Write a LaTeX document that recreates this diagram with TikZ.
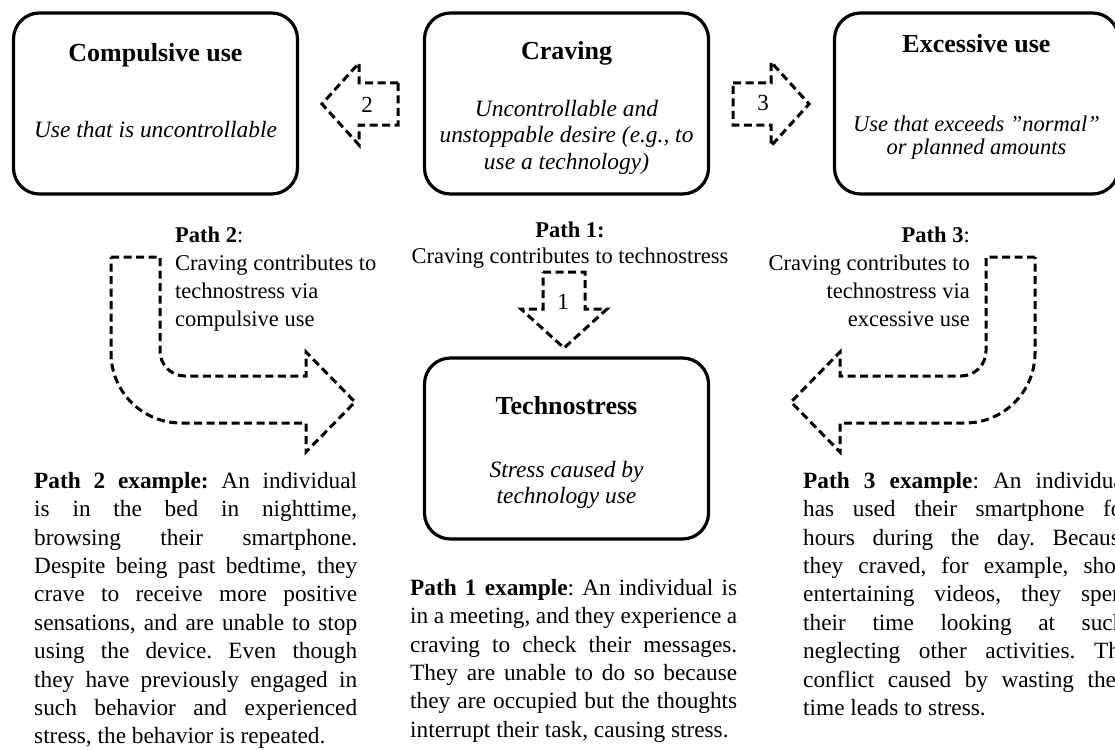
\documentclass[tikz,border=0pt]{standalone}
\usepackage{fontspec}
\setmainfont{Liberation Serif}
\frenchspacing
\newcommand{\jline}[2]{\makebox[#1][s]{#2}}
\begin{document}
\begin{tikzpicture}[x=1pt,y=-1pt,
  ubox/.style={draw=black,line width=3.2pt,rounded corners=26pt,minimum width=284pt,minimum height=181pt,inner sep=0pt},
  blockarrow/.style={draw=black,line width=3pt,dash pattern=on 8pt off 4.5pt},
  ttl/.style={inner sep=0pt,anchor=base,font=\fontsize{26}{30}\selectfont\bfseries},
  desc/.style={inner sep=0pt,anchor=north,align=center,font=\fontsize{23.4}{#1}\selectfont\itshape},
  lbl/.style={inner sep=0pt,font=\fontsize{22.5}{#1}\selectfont},
  body/.style={inner sep=0pt,anchor=north west,align=left,font=\fontsize{23.3}{28.4}\selectfont},
  num/.style={inner sep=0pt,font=\fontsize{23}{27}\selectfont}]
\useasboundingbox (0,0) rectangle (1115,749);
\clip (0,0) rectangle (1115,749);

% boxes
\node[ubox] (comp) at (155.5,103.5) {};
\node[ubox] (crav) at (566.5,103.5) {};
\node[ubox] (exc)  at (976.5,103.5) {};
\node[ubox] (tech) at (566.5,448.5) {};

% box texts
\node[ttl] (t1) at (155.5,62) {Compulsive use};
\node[desc=25,anchor=base] (d1) at (155.5,137) {Use that is uncontrollable};
\node[ttl] (t2) at (566.5,60) {Craving};
\node[desc=26.5] (d2) at (566.5,97) {\rule{0pt}{19pt}Uncontrollable and\\unstoppable desire (e.g., to\\use a technology)};
\node[ttl] (t3) at (976.5,53) {Excessive use};
\node[desc=23.5,font=\fontsize{22.5}{23.5}\selectfont\itshape] (d3) at (976.5,112) {\rule{0pt}{19pt}Use that exceeds ”normal”\\or planned amounts};
\node[ttl] (t4) at (566.5,414) {Technostress};
\node[desc=26] (d4) at (566.5,458) {\rule{0pt}{19pt}Stress caused by\\technology use};

% straight block arrows
\draw[blockarrow] (398,83) -- (359,83) -- (359,63) -- (322,104) -- (359,145) -- (359,125) -- (398,125) -- cycle;
\node[num] (n2) at (367,105) {2};
\draw[blockarrow] (733,83) -- (771,83) -- (771,62) -- (809,104) -- (771,146) -- (771,125) -- (733,125) -- cycle;
\node[num] (n3) at (763,103) {3};
\draw[blockarrow] (543,272) -- (585,272) -- (585,309) -- (607,309) -- (564,348) -- (521,309) -- (543,309) -- cycle;
\node[num] (n1) at (563,302) {1};

% bent arrows
\draw[blockarrow] (111,257) -- (160,257) -- (160,351) .. controls (160,364.8) and (171.2,376) .. (185,376)
  -- (306,376) -- (306,352) -- (355,402) -- (306,452) -- (306,423) -- (181,423)
  .. controls (142.3,423) and (111,391.7) .. (111,353) -- cycle;
\draw[blockarrow] (1035,257) -- (986,257) -- (986,351) .. controls (986,364.8) and (974.8,376) .. (961,376)
  -- (840,376) -- (840,352) -- (791,402) -- (840,452) -- (840,423) -- (965,423)
  .. controls (1003.7,423) and (1035,391.7) .. (1035,353) -- cycle;

% path labels
\node[lbl=26,anchor=north,align=center] (p1) at (570,218) {\rule{0pt}{19pt}\textbf{Path 1:}\\Craving contributes to technostress};
\node[lbl=28,anchor=north west,align=left] (p2) at (175,223) {\rule{0pt}{19pt}\textbf{Path 2}:\\Craving contributes to\\technostress via\\compulsive use};
\node[lbl=28,anchor=north east,align=right] (p3) at (970,223) {\rule{0pt}{19pt}\textbf{Path 3}:\\Craving contributes to\\technostress via\\excessive use};

% examples
\node[body] (ex2) at (34,468) {%
\jline{323pt}{\rule{0pt}{20pt}\textbf{Path 2 example:} An individual}\\
\jline{323pt}{is in the bed in nighttime,}\\
\jline{323pt}{browsing their smartphone.}\\
\jline{323pt}{Despite being past bedtime, they}\\
\jline{323pt}{crave to receive more positive}\\
\jline{323pt}{sensations, and are unable to stop}\\
\jline{323pt}{using the device. Even though}\\
\jline{323pt}{they have previously engaged in}\\
\jline{323pt}{such behavior and experienced}\\
stress, the behavior is repeated.};

\node[body] (ex1) at (410,575) {%
\jline{327pt}{\rule{0pt}{20pt}\textbf{Path 1 example}: An individual is}\\
\jline{327pt}{in a meeting, and they experience a}\\
\jline{327pt}{craving to check their messages.}\\
\jline{327pt}{They are unable to do so because}\\
\jline{327pt}{they are occupied but the thoughts}\\
interrupt their task, causing stress.};

\node[body] (ex3) at (803,468) {%
\jline{327pt}{\rule{0pt}{20pt}\textbf{Path 3 example}: An individual}\\
\jline{327pt}{has used their smartphone for}\\
\jline{327pt}{hours during the day. Because}\\
\jline{327pt}{they craved, for example, short}\\
\jline{327pt}{entertaining videos, they spent}\\
\jline{327pt}{their time looking at such,}\\
\jline{327pt}{neglecting other activities. The}\\
\jline{327pt}{conflict caused by wasting their}\\
time leads to stress.};
\end{tikzpicture}
\end{document}
